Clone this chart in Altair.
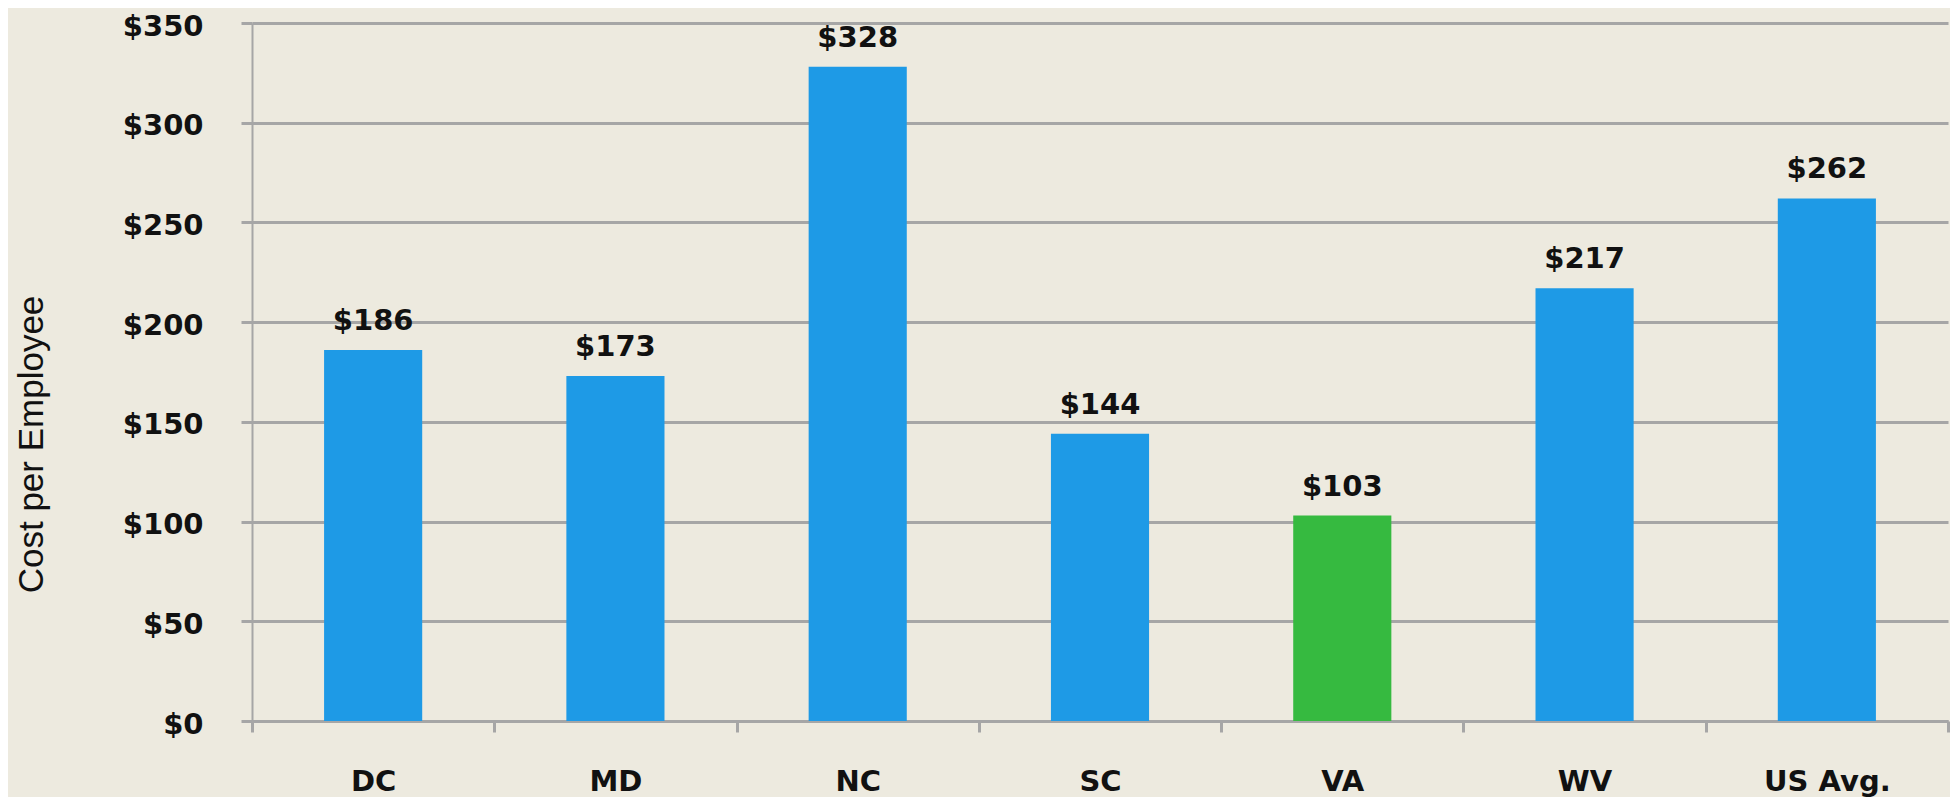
import altair as alt
import pandas as pd

categories = ["DC", "MD", "NC", "SC", "VA", "WV", "US Avg."]
values = [186, 173, 328, 144, 103, 217, 262]
bar_colors = ["#1E9AE6", "#1E9AE6", "#1E9AE6", "#1E9AE6", "#36BA40", "#1E9AE6", "#1E9AE6"]
y_ticks = [0, 50, 100, 150, 200, 250, 300, 350]

df = pd.DataFrame({
    "cat": categories,
    "val": values,
    "color": bar_colors,
    "label": ["$" + str(v) for v in values],
})

LABEL_FONT = "DejaVu Sans"
FS = 29
GRID = "#A6A6A6"

x_scale = alt.Scale(paddingInner=0, paddingOuter=0)

x_enc = alt.X(
    "cat:N",
    sort=categories,
    scale=x_scale,
    axis=alt.Axis(
        title=None,
        labelAngle=0,
        labelFont=LABEL_FONT,
        labelFontSize=FS,
        labelFontWeight="bold",
        labelColor="#111111",
        labelPadding=35,
        labelBaseline="top",
        domainColor=GRID,
        domainWidth=3,
        tickColor=GRID,
        tickWidth=3,
        tickSize=11,
        tickBand="extent",
        grid=False,
    ),
)

y_scale = alt.Scale(domain=[0, 350], nice=False)

bars = alt.Chart(df).mark_bar(width=alt.RelativeBandSize(0.405)).encode(
    x=x_enc,
    y=alt.Y(
        "val:Q",
        scale=y_scale,
        axis=alt.Axis(
            title="Cost per Employee",
            titleFont="Liberation Sans",
            titleFontSize=35,
            titleFontWeight="normal",
            titleColor="#111111",
            titleAngle=270,
            titleBaseline="alphabetic",
            titleAlign="center",
            titleX=-210,
            titleY=421,
            values=y_ticks,
            labelExpr="'$' + datum.value",
            labelFont=LABEL_FONT,
            labelFontSize=FS,
            labelFontWeight="bold",
            labelColor="#111111",
            labelPadding=38,
            labelOffset=3,
            domainColor=GRID,
            domainWidth=2,
            tickColor=GRID,
            tickWidth=3,
            tickSize=11,
            grid=True,
            gridColor=GRID,
            gridWidth=3,
        ),
    ),
    color=alt.Color("color:N", scale=None),
)

labels = alt.Chart(df).mark_text(
    font=LABEL_FONT,
    fontSize=FS,
    fontWeight="bold",
    color="#111111",
    baseline="alphabetic",
    dy=-20,
).encode(
    x=alt.X("cat:N", sort=categories, scale=x_scale),
    y=alt.Y("val:Q", scale=y_scale),
    text="label:N",
)

chart = (
    alt.layer(bars, labels)
    .properties(
        width=1696,
        height=698,
        background="#EDEADF",
        padding={"left": 244, "top": 15, "right": 2, "bottom": 76},
        autosize=alt.AutoSizeParams(type="none"),
    )
    .configure_view(stroke=None)
)

chart.save("out.html", embed_options={"renderer": "svg", "actions": False})
